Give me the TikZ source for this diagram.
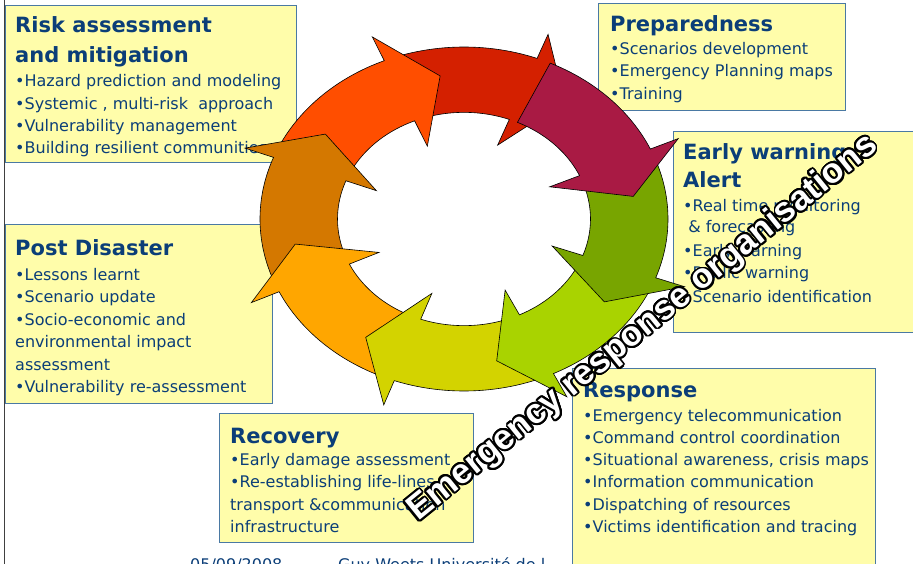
\documentclass[tikz,border=0pt]{standalone}
\usepackage{fontspec}
\setmainfont{DejaVu Sans}
\newfontfamily\wafont{Liberation Sans}
\usetikzlibrary{calc}
\definecolor{txt}{HTML}{0B3E78}
\definecolor{boxfill}{HTML}{FFFDAA}
\definecolor{boxline}{HTML}{4A79A3}
\definecolor{cOrange}{HTML}{FF4E00}
\definecolor{cRed}{HTML}{D42000}
\definecolor{cMag}{HTML}{A91A44}
\definecolor{cGreen}{HTML}{78A500}
\definecolor{cLGreen}{HTML}{A9D300}
\definecolor{cYGreen}{HTML}{D3D300}
\definecolor{cOY}{HTML}{FFA600}
\definecolor{cBrown}{HTML}{D47800}
\newcommand\ringarrow[2]{%
  \filldraw[fill=#1, draw=black, line width=0.6pt, line join=miter]
   ({#2+56}:0.62) -- plot[domain=0:1, samples=40] ({#2+56-41*\x}:1)
   -- ({#2+15}:1.15) -- (#2:0.84) -- ({#2+15}:0.46)
   -- plot[domain=0:1, samples=30] ({#2+15+41*\x}:0.62) -- cycle;}
\begin{document}
\begin{tikzpicture}[x=1pt, y=-1pt,
  box/.style={draw=boxline, fill=boxfill, line width=1.3pt, inner sep=0pt, anchor=north west},
  ttl/.style={anchor=base west, inner sep=0pt, text=txt, font=\bfseries\fontsize{21}{21}\selectfont},
  itm/.style={anchor=base west, inner sep=0pt, text=txt, font=\fontsize{16}{16}\selectfont},
  wa/.style={anchor=base west, inner sep=0pt, rotate=39, font=\wafont\bfseries\fontsize{35}{35}\selectfont}]
\useasboundingbox (0,0) rectangle (913,564);
\clip (0,0) rectangle (913,564);
\fill[white] (0,0) rectangle (913,564);
\draw[gray!50!black, line width=0.8pt] (4,0) -- (4,564);

% Risk assessment box
\node[box, minimum width=291pt, minimum height=157pt] (riskbox) at (5,5) {};
\node[ttl] (risk1) at (15,33) {Risk assessment};
\node[ttl] (risk2) at (15,63) {and mitigation};
\node[itm] (risk3) at (15,87) {•Hazard prediction and modeling};
\node[itm] (risk4) at (15,110) {•Systemic , multi-risk\ \ approach};
\node[itm] (risk5) at (15,132) {•Vulnerability management};
\node[itm] (risk6) at (15,154) {•Building resilient communities};

% Preparedness box
\node[box, minimum width=247pt, minimum height=107pt] (prepbox) at (598,3) {};
\node[ttl] (prep1) at (610,32) {Preparedness};
\node[itm] (prep2) at (610,55) {•Scenarios development};
\node[itm] (prep3) at (610,77) {•Emergency Planning maps};
\node[itm] (prep4) at (610,100) {•Training};

% Early warning box
\node[box, minimum width=250pt, minimum height=201pt] (ewbox) at (673,131) {};
\node[ttl] (ew1) at (683,160) {Early warning};
\node[ttl] (ew2) at (683,188) {Alert};
\node[itm] (ew3) at (683,212) {•Real time monitoring};
\node[itm] (ew4) at (683,233) {\ \&~forecasting};
\node[itm] (ew5) at (683,257) {•Early warning};
\node[itm] (ew6) at (683,278) {•Public warning};
\node[itm] (ew7) at (683,302) {•Scenario identification};

% Post disaster box
\node[box, minimum width=267pt, minimum height=179pt] (postbox) at (5,224) {};
\node[ttl] (post1) at (15,255) {Post Disaster};
\node[itm] (post2) at (15,280) {•Lessons learnt};
\node[itm] (post3) at (15,302) {•Scenario update};
\node[itm] (post4) at (15,325) {•Socio-economic and};
\node[itm] (post5) at (15,347) {environmental impact};
\node[itm] (post6) at (15,370) {assessment};
\node[itm] (post7) at (15,392) {•Vulnerability re-assessment};

% Recovery box
\node[box, minimum width=254pt, minimum height=129pt] (recbox) at (219,413) {};
\node[ttl] (rec1) at (230,443) {Recovery};
\node[itm] (rec2) at (230,465) {•Early damage assessment};
\node[itm] (rec3) at (230,487) {•Re-establishing life-lines};
\node[itm] (rec4) at (230,510) {transport \&communication};
\node[itm] (rec5) at (230,532) {infrastructure};

% footer (cut by the page edge)
\node[itm] (date) at (190,570) {05/09/2008};
\node[itm] (auth) at (338,570) {Guy Weets Université de l};

% Response box
\node[box, minimum width=303pt, minimum height=200pt] (respbox) at (572,368) {};
\node[ttl] (resp1) at (583,397) {Response};
\node[itm] (resp2) at (583,421) {•Emergency telecommunication};
\node[itm] (resp3) at (583,443) {•Command control coordination};
\node[itm] (resp4) at (583,465) {•Situational awareness, crisis maps};
\node[itm] (resp5) at (583,487) {•Information communication};
\node[itm] (resp6) at (583,510) {•Dispatching of resources};
\node[itm] (resp7) at (583,532) {•Victims identification and tracing};

% cycle of arrows
\begin{scope}[shift={(464,219)}, xscale=204, yscale=-172]
  \ringarrow{cRed}{54}
  \ringarrow{cOrange}{98}
  \ringarrow{cBrown}{144}
  \ringarrow{cOY}{-170}
  \ringarrow{cYGreen}{-125}
  \ringarrow{cLGreen}{-79}
  \ringarrow{cGreen}{-35}
  \ringarrow{cMag}{9}
\end{scope}

% outlined diagonal text
\foreach \a [count=\i] in {0,15,...,345}
  \node[wa, text=black] (wo\i) at ($(418,522)+(\a:1.9)$) {Emergency response organisations};
\node[wa, text=white] (ero) at (418,522) {Emergency response organisations};
\end{tikzpicture}
\end{document}
